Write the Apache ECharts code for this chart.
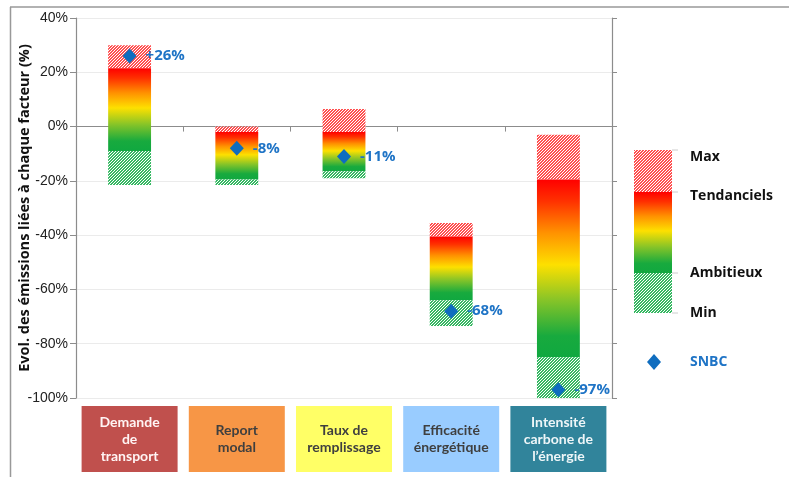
<!DOCTYPE html>
<html>
<head>
<meta charset="utf-8">
<script src="https://cdn.jsdelivr.net/npm/echarts@6/dist/echarts.min.js"></script>
<style>
html,body{margin:0;padding:0;background:#fff;}
#chart{width:789px;height:477px;}
</style>
</head>
<body>
<div id="chart"></div>
<script>
// ---- Data ----
const categories = ['Demande\nde\ntransport', 'Report\nmodal', 'Taux de\nremplissage', 'Efficacité\nénergétique', 'Intensité\ncarbone de\nl\u2019énergie'];
const maxValues = [30, 0, 6.5, -35.5, -3];
const tendancielValues = [21.5, -2, -2, -40.5, -19.5];
const ambitieuxValues = [-9, -19.5, -16.5, -64, -85];
const minValues = [-21.5, -21.5, -19, -73.5, -100];
const snbcValues = [26, -8, -11, -68, -97];
const yTicks = [-100, -80, -60, -40, -20, 0, 20, 40];
const boxColors = ['#C0504D', '#F79646', '#FFFF66', '#99CCFF', '#31849B'];
const boxTextColors = ['#FFF4F4', '#3F3F3F', '#3F3F3F', '#3F3F3F', '#EEF6F8'];

// ---- Patterns ----
function hatch(color, period, on) {
  const c = document.createElement('canvas');
  c.width = period; c.height = period;
  const ctx = c.getContext('2d');
  for (let x = 0; x < period; x++) {
    for (let y = 0; y < period; y++) {
      ctx.fillStyle = ((x + y) % period) < on ? color : '#ffffff';
      ctx.fillRect(x, y, 1, 1);
    }
  }
  return { image: c, repeat: 'repeat' };
}
const redHatch = hatch('#FF5050', 3, 2);
const greenHatch = hatch('#36B862', 3, 2);
function grad() {
  return new echarts.graphic.LinearGradient(0, 0, 0, 1, [
    { offset: 0, color: '#FF0000' },
    { offset: 0.12, color: '#FF3000' },
    { offset: 0.3, color: '#FF9200' },
    { offset: 0.48, color: '#FDE000' },
    { offset: 0.68, color: '#86C428' },
    { offset: 0.88, color: '#18AA3E' },
    { offset: 1, color: '#10A840' }
  ]);
}

function zone(fillFn) {
  return function (params, api) {
    const x = api.value(0), lo = api.value(1), hi = api.value(2);
    const p1 = api.coord([x, hi]);
    const p2 = api.coord([x, lo]);
    const w = api.size([1, 0])[0] * 0.4;
    return {
      type: 'rect',
      shape: { x: p1[0] - w / 2, y: p1[1], width: w, height: p2[1] - p1[1] },
      style: { fill: fillFn() }
    };
  };
}

const maxZone = categories.map((c, i) => [i, tendancielValues[i], maxValues[i]]);
const midZone = categories.map((c, i) => [i, ambitieuxValues[i], tendancielValues[i]]);
const minZone = categories.map((c, i) => [i, minValues[i], ambitieuxValues[i]]);

const bottomCats = categories.map((c, i) => {
  const n = c.split('\n').length;
  const pad = (66 - n * 17) / 2;
  return {
    value: c,
    textStyle: {
      backgroundColor: boxColors[i],
      color: boxTextColors[i],
      padding: [pad, 0, pad, 0],
      width: 96,
      lineHeight: 17
    }
  };
});

const chart = echarts.init(document.getElementById('chart'), null, { renderer: 'canvas' });
const axisColor = '#8C8C8C';
const option = {
  animation: false,
  grid: { left: 76, right: 177, top: 18, bottom: 79, containLabel: false, outerBoundsMode: 'none' },
  xAxis: [
    {
      type: 'category', data: categories,
      axisLine: { onZero: true, lineStyle: { color: axisColor, width: 1.2 } },
      axisTick: { show: true, length: 5, lineStyle: { color: axisColor } },
      axisLabel: { show: false },
      splitLine: { show: false }
    },
    {
      type: 'category', data: bottomCats, position: 'bottom',
      axisLine: { show: false, onZero: false },
      axisTick: { show: false },
      axisLabel: {
        show: true, interval: 0, margin: 8,
        fontFamily: 'Lato', fontWeight: 'bold', fontSize: 14, lineHeight: 17
      }
    }
  ],
  yAxis: [
    {
      type: 'value', min: -100, max: 40, interval: 20,
      name: 'Evol. des émissions liées à chaque facteur (%)',
      nameLocation: 'middle', nameGap: 44, nameMoveOverlap: false,
      nameTextStyle: { fontFamily: 'Open Sans', fontWeight: 'bold', fontSize: 14.5, color: '#111' },
      axisLine: { show: true, lineStyle: { color: axisColor, width: 1.2 } },
      axisTick: { show: true, length: 6, lineStyle: { color: axisColor } },
      axisLabel: {
        formatter: v => yTicks.indexOf(v) >= 0 ? v + '%' : '',
        fontFamily: 'Liberation Sans', fontSize: 14, color: '#222', margin: 8
      },
      splitLine: { show: true, lineStyle: { color: '#EBEBEB', width: 1 } }
    },
    {
      type: 'value', min: -100, max: 40, interval: 20, position: 'right',
      axisLine: { show: true, lineStyle: { color: axisColor, width: 1.2 } },
      axisTick: { show: true, length: 5, lineStyle: { color: axisColor } },
      axisLabel: { show: false },
      splitLine: { show: false }
    }
  ],
  series: [
    { type: 'custom', name: 'Max', renderItem: zone(() => redHatch), data: maxZone, encode: { x: 0, y: [1, 2] }, z: 2 },
    { type: 'custom', name: 'Tendanciels', renderItem: zone(grad), data: midZone, encode: { x: 0, y: [1, 2] }, z: 2 },
    { type: 'custom', name: 'Min', renderItem: zone(() => greenHatch), data: minZone, encode: { x: 0, y: [1, 2] }, z: 2 },
    {
      type: 'scatter', name: 'SNBC', data: snbcValues,
      symbol: 'diamond', symbolSize: [14, 15], z: 5,
      itemStyle: { color: '#0F6DBF', opacity: 1 },
      label: {
        show: true, position: 'right', distance: 9, opacity: 1,
        formatter: p => (p.value > 0 ? '+' : '') + p.value + '%',
        fontFamily: 'Open Sans', fontWeight: 'bold', fontSize: 15, color: '#1F74C6'
      }
    }
  ],
  graphic: [
    { type: 'line', shape: { x1: 10, y1: 7, x2: 789, y2: 7 }, style: { stroke: '#999', lineWidth: 1.5 } },
    { type: 'line', shape: { x1: 10.5, y1: 7, x2: 10.5, y2: 477 }, style: { stroke: '#999', lineWidth: 1.5 } },
    { type: 'rect', shape: { x: 634, y: 150, width: 38, height: 42 }, style: { fill: redHatch } },
    { type: 'rect', shape: { x: 634, y: 192, width: 38, height: 81 }, style: { fill: grad() } },
    { type: 'rect', shape: { x: 634, y: 273, width: 38, height: 40 }, style: { fill: greenHatch } },
    { type: 'line', shape: { x1: 672, y1: 150, x2: 678, y2: 150 }, style: { stroke: '#ccc' } },
    { type: 'line', shape: { x1: 672, y1: 192, x2: 678, y2: 192 }, style: { stroke: '#ccc' } },
    { type: 'line', shape: { x1: 672, y1: 273, x2: 678, y2: 273 }, style: { stroke: '#ccc' } },
    { type: 'line', shape: { x1: 672, y1: 313, x2: 678, y2: 313 }, style: { stroke: '#ccc' } },
    { type: 'text', x: 690, y: 157, style: { text: 'Max', fill: '#111', font: 'bold 14px "Open Sans"', textVerticalAlign: 'middle' } },
    { type: 'text', x: 690, y: 196, style: { text: 'Tendanciels', fill: '#111', font: 'bold 14px "Open Sans"', textVerticalAlign: 'middle' } },
    { type: 'text', x: 690, y: 273, style: { text: 'Ambitieux', fill: '#111', font: 'bold 14px "Open Sans"', textVerticalAlign: 'middle' } },
    { type: 'text', x: 690, y: 313, style: { text: 'Min', fill: '#111', font: 'bold 14px "Open Sans"', textVerticalAlign: 'middle' } },
    { type: 'polygon', shape: { points: [[654, 354], [661, 362], [654, 370], [647, 362]] }, style: { fill: '#0F6DBF' } },
    { type: 'text', x: 690, y: 362, style: { text: 'SNBC', fill: '#1F74C6', font: 'bold 14px "Open Sans"', textVerticalAlign: 'middle' } }
  ]
};
chart.setOption(option);
</script>
</body>
</html>
